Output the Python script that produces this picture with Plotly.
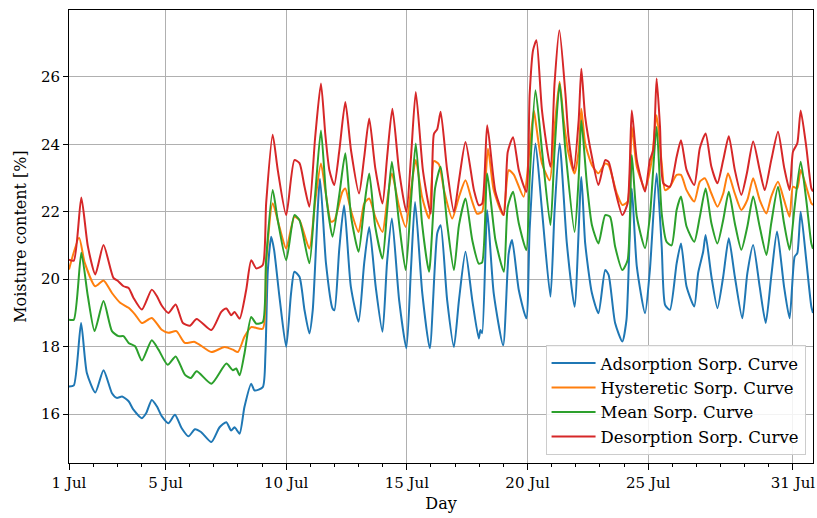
import numpy as np
import pandas as pd
import plotly.graph_objects as go

# Time is given in days since 1 July 00:00; values are moisture content in %.
ads_day = [0.0, 0.20, 0.50, 0.74, 1.09, 1.43, 1.78, 1.98, 2.20, 2.47,
           2.67, 3.02, 3.20, 3.43, 3.64, 3.85, 4.12, 4.39, 4.67, 4.95,
           5.22, 5.47, 5.90, 6.24, 6.52, 6.72, 6.86, 7.07, 7.27, 7.55,
           7.69, 8.03, 8.14, 8.24, 8.38, 8.50, 8.72, 9.00, 9.20, 9.34,
           9.55, 9.76, 9.96, 10.10, 10.40, 10.65, 10.92, 11.00, 11.20, 11.40,
           11.68, 12.00, 12.23, 12.44, 12.71, 12.99, 13.18, 13.38, 13.68, 13.98,
           14.17, 14.34, 14.64, 14.95, 15.26, 15.40, 15.67, 15.95, 16.16, 16.43,
           16.71, 16.98, 17.05, 17.12, 17.33, 17.60, 17.99, 18.22, 18.36, 18.64,
           18.95, 19.09, 19.33, 19.60, 19.95, 20.12, 20.33, 20.63, 20.95, 21.23,
           21.39, 21.67,
           21.94, 22.22, 22.36, 22.63, 22.93, 23.10, 23.32, 23.53, 23.87, 24.07,
           24.35, 24.56, 24.70, 24.90, 25.18, 25.36, 25.59, 25.91, 26.07, 26.28,
           26.38, 26.62, 26.87, 27.11, 27.34, 27.59, 27.90, 28.11, 28.35, 28.62,
           28.87, 29.10, 29.34, 29.63, 29.86, 30.07, 30.18, 30.32, 30.55, 30.76,
           30.83]
ads_val = [16.82, 16.85, 18.70, 17.22, 16.64, 17.30, 16.62, 16.48, 16.52, 16.38,
           16.13, 15.88, 16.03, 16.42, 16.23, 15.93, 15.73, 15.98, 15.58, 15.34,
           15.55, 15.47, 15.17, 15.61, 15.76, 15.51, 15.61, 15.42, 16.21, 16.90,
           16.70, 16.80, 17.79, 20.27, 21.26, 20.86, 19.48, 17.99, 19.57, 20.22,
           20.07, 19.08, 18.39, 19.08, 22.98, 20.46, 19.13, 19.08, 20.90, 22.19,
           19.77, 18.74, 20.46, 21.55, 19.77, 18.44, 20.50, 21.80, 19.38, 17.95,
           20.30, 22.29, 19.58, 17.95, 21.36, 21.60, 19.38, 17.99, 19.38, 20.81,
           19.38, 18.24, 18.49, 18.40, 22.04, 19.58, 18.04, 20.76, 21.16, 19.67,
           18.84, 21.50, 24.02, 22.04, 19.48, 22.00, 24.02, 21.06, 19.18, 23.03,
           21.06, 19.58,
           18.99, 20.27, 20.13, 18.70, 18.15, 18.79, 22.69, 20.37, 18.99, 20.27,
           23.14, 20.97, 19.24, 19.09, 20.47, 21.06, 19.78, 19.19, 20.18, 20.82,
           21.31, 20.08, 19.14, 20.08, 21.21, 20.08, 18.84, 20.18, 21.01, 19.78,
           18.70, 20.08, 21.41, 19.78, 18.84, 20.67, 20.77, 22.00, 20.57, 19.19,
           19.00]

hys_day = [0.0, 0.42, 0.65, 1.09, 1.43, 1.78, 2.12, 2.47, 2.74, 3.02,
           3.43, 3.84, 4.12, 4.45, 4.80, 5.21, 5.90, 6.45, 6.79, 7.00,
           7.27, 7.55, 8.03, 8.17, 8.44, 8.72, 9.00, 9.34, 9.55, 9.96,
           10.20, 10.44, 10.62, 10.86, 11.00, 11.33, 11.45, 11.68, 12.00, 12.23,
           12.44, 12.69, 12.99, 13.18, 13.38, 13.68, 13.95, 14.17, 14.37, 14.63,
           14.92, 15.12, 15.33, 15.54, 15.88, 16.16, 16.43, 16.69, 16.91, 17.12,
           17.36, 17.60, 17.99, 18.22, 18.43, 18.84, 19.09, 19.26, 19.33, 19.60,
           19.92, 20.12, 20.33, 20.50, 20.70, 20.95, 21.12, 21.23, 21.39, 21.67,
           21.94, 22.22, 22.36, 22.70, 22.93, 23.15, 23.32, 23.53, 23.87, 24.15,
           24.35, 24.56, 24.70, 24.90, 25.18, 25.36, 25.59, 25.91, 26.14, 26.35,
           26.62, 26.87, 27.11, 27.31, 27.59, 27.86, 28.11, 28.35, 28.62, 28.90,
           29.10, 29.38, 29.63, 29.86, 30.00, 30.18, 30.32, 30.55, 30.76, 30.83]
hys_val = [20.29, 21.23, 20.49, 19.79, 19.96, 19.59, 19.30, 19.15, 18.95, 18.70,
           18.85, 18.50, 18.41, 18.46, 18.11, 18.14, 17.84, 17.99, 17.91, 17.84,
           18.29, 18.58, 18.53, 20.50, 22.25, 21.55, 20.91, 21.85, 21.75, 20.91,
           22.30, 23.43, 22.64, 21.70, 21.75, 22.59, 22.69, 22.04, 21.40, 22.24,
           22.39, 21.85, 21.40, 22.30, 23.13, 22.14, 21.55, 22.64, 23.53, 22.44,
           21.80, 23.50, 23.40, 22.64, 21.80, 22.44, 22.93, 22.34, 21.94, 22.00,
           23.87, 22.64, 21.90, 23.23, 23.10, 22.44, 23.90, 25.00, 24.71, 23.43,
           22.93, 24.50, 25.85, 24.71, 23.73, 23.13, 23.80, 25.05, 24.02, 23.38,
           23.14, 23.43, 23.38, 22.54, 22.20, 22.30, 24.52, 23.33, 22.69, 23.53,
           24.86, 23.43, 22.64, 22.74, 23.09, 23.09, 22.64, 22.30, 22.89, 22.99,
           22.54, 22.15, 22.54, 23.14, 22.54, 22.05, 22.35, 22.99, 22.35, 21.95,
           22.45, 22.89, 22.35, 21.85, 22.74, 22.69, 23.24, 22.74, 22.25, 22.20]

mean_day = [0.0, 0.20, 0.51, 0.78, 1.06, 1.43, 1.78, 2.05, 2.26, 2.47,
            2.74, 3.02, 3.43, 3.71, 4.09, 4.42, 4.80, 5.05, 5.29, 5.90,
            6.52, 6.79, 6.93, 7.07, 7.27, 7.55, 7.76, 8.03, 8.17, 8.44,
            8.65, 9.00, 9.34, 9.55, 9.96, 10.20, 10.44, 10.66, 10.92, 11.20,
            11.45, 11.69, 12.00, 12.23, 12.44, 12.69, 12.99, 13.18, 13.38, 13.68,
            13.95, 14.17, 14.37, 14.63, 14.92, 15.17, 15.40, 15.67, 15.95, 16.16,
            16.43, 16.71, 16.98, 17.12, 17.33, 17.67, 18.02, 18.18, 18.40, 18.64,
            18.95, 19.09, 19.33, 19.60, 19.95, 20.12, 20.33, 20.57, 20.95, 21.12,
            21.23, 21.46, 21.67,
            21.94, 22.22, 22.42, 22.63, 22.93, 23.15, 23.32, 23.53, 23.87, 24.07,
            24.35, 24.56, 24.76, 24.97, 25.18, 25.36, 25.59, 25.91, 26.14, 26.38,
            26.62, 26.87, 27.11, 27.34, 27.59, 27.86, 28.11, 28.35, 28.62, 28.90,
            29.10, 29.38, 29.63, 29.86, 30.07, 30.32, 30.55, 30.76, 30.83]
mean_val = [18.80, 18.80, 20.78, 19.50, 18.46, 19.35, 18.46, 18.31, 18.31, 18.11,
            18.01, 17.59, 18.19, 17.91, 17.46, 17.71, 17.17, 17.07, 17.27, 16.90,
            17.50, 17.30, 17.35, 17.15, 17.79, 18.88, 18.68, 18.73, 20.60, 22.64,
            21.75, 20.56, 21.90, 21.75, 20.47, 22.50, 24.41, 22.44, 21.26, 22.50,
            23.73, 21.85, 20.81, 22.14, 23.13, 21.55, 20.61, 22.00, 23.48, 21.65,
            20.27, 22.30, 24.02, 21.65, 20.22, 22.70, 23.33, 21.65, 20.27, 21.60,
            22.39, 21.16, 20.46, 20.50, 23.13, 21.16, 20.22, 22.14, 22.59, 21.65,
            20.86, 23.00, 25.60, 23.82, 21.60, 23.80, 25.80, 23.82, 21.40, 23.00,
            24.71, 22.83, 21.60,
            21.06, 21.90, 21.85, 20.97, 20.27, 20.57, 23.68, 21.85, 20.92, 21.85,
            24.52, 21.95, 21.11, 21.00, 22.05, 22.45, 21.56, 21.11, 21.85, 22.69,
            21.66, 21.06, 21.76, 22.59, 21.66, 20.87, 21.56, 22.45, 21.56, 20.72,
            21.66, 22.74, 21.66, 20.87, 22.15, 23.48, 22.35, 21.06, 20.90]

des_day = [0.0, 0.20, 0.51, 0.78, 1.09, 1.43, 1.84, 2.04, 2.26, 2.47,
           2.67, 3.02, 3.43, 3.64, 3.84, 4.12, 4.42, 4.72, 5.01, 5.29,
           5.90, 6.31, 6.52, 6.72, 6.86, 7.07, 7.34, 7.55, 7.76, 8.03,
           8.17, 8.44, 8.65, 9.00, 9.34, 9.55, 9.76, 9.96, 10.20, 10.44,
           10.62, 10.79, 10.99, 11.20, 11.45, 11.69, 12.02, 12.23, 12.44, 12.69,
           12.99, 13.18, 13.40, 13.68, 13.98, 14.17, 14.37, 14.67, 14.99, 15.12,
           15.26, 15.40, 15.67, 15.95, 16.16, 16.43, 16.78, 16.98, 17.12, 17.33,
           17.67, 18.02, 18.18, 18.40, 18.64, 18.95, 19.09, 19.23, 19.37, 19.60,
           19.95, 20.12, 20.32, 20.57, 20.70, 20.91, 21.12, 21.23, 21.39, 21.67,
           21.94, 22.22, 22.36, 22.63, 22.93, 23.15, 23.32, 23.53, 23.87, 24.07,
           24.21, 24.35, 24.49, 24.63, 24.90, 25.18, 25.36, 25.59, 25.91, 26.14,
           26.38, 26.62, 26.87, 27.11, 27.34, 27.59, 27.86, 28.09, 28.35, 28.62,
           28.83, 29.10, 29.38, 29.63, 29.86, 30.00, 30.18, 30.32, 30.55, 30.76,
           30.83]
des_val = [20.58, 20.55, 22.42, 20.98, 20.14, 21.01, 20.04, 19.94, 19.79, 19.74,
           19.45, 19.10, 19.69, 19.50, 19.22, 19.00, 19.25, 18.70, 18.62, 18.82,
           18.49, 19.03, 19.13, 18.93, 19.03, 18.83, 19.67, 20.56, 20.32, 20.42,
           22.25, 24.28, 23.24, 21.90, 23.53, 23.44, 22.74, 22.15, 24.20, 25.80,
           24.30, 23.23, 22.79, 23.80, 25.25, 23.80, 22.54, 23.60, 24.76, 23.30,
           22.24, 23.60, 25.05, 23.20, 21.99, 23.60, 25.55, 23.20, 21.94, 24.30,
           24.45, 24.96, 23.23, 21.99, 22.93, 24.07, 22.64, 22.19, 22.24, 24.56,
           22.59, 21.90, 23.77, 24.21, 23.23, 22.59, 25.50, 26.79, 27.08, 25.00,
           23.33, 25.80, 27.38, 25.50, 24.21, 23.23, 24.71, 26.24, 24.81, 23.62,
           22.79, 23.53, 23.48, 22.64, 21.90, 22.25, 25.00, 23.53, 22.60, 23.53,
           23.83, 25.95, 24.52, 22.84, 22.74, 23.63, 24.12, 23.24, 22.79, 23.88,
           24.32, 23.33, 22.84, 23.53, 24.24, 23.24, 22.50, 23.14, 24.08, 23.24,
           22.64, 23.53, 24.37, 23.33, 22.64, 23.78, 24.03, 25.00, 23.93, 22.70,
           22.60]

series_names = ["Adsorption Sorp. Curve", "Hysteretic Sorp. Curve",
                "Mean Sorp. Curve", "Desorption Sorp. Curve"]
series_colors = ["#1f77b4", "#ff7f0e", "#2ca02c", "#d62728"]

start = pd.Timestamp("2023-07-01")
tick_days = [1, 5, 10, 15, 20, 25, 31]


def to_time(days):
    return start + pd.to_timedelta(np.asarray(days, dtype=float), unit="D")


FONT = "DejaVu Serif"
fig = go.Figure()
for name, days, vals, color in zip(
        series_names,
        [ads_day, hys_day, mean_day, des_day],
        [ads_val, hys_val, mean_val, des_val],
        series_colors):
    fig.add_trace(go.Scatter(
        x=to_time(days), y=vals, mode="lines", name=name,
        legendgroup=name,
        line=dict(color=color, width=2, shape="spline", smoothing=0.6),
    ))

tickvals = [start + pd.Timedelta(days=d - 1) for d in tick_days]
ticktext = [f"{d} Jul" for d in tick_days]

fig.update_layout(
    width=817, height=518,
    margin=dict(l=69, r=2, t=10, b=55),
    paper_bgcolor="white", plot_bgcolor="white",
    font=dict(family=FONT, size=15, color="black"),
    showlegend=True,
    legend=dict(
        x=0.99, y=0.018, xanchor="right", yanchor="bottom",
        bgcolor="rgba(255,255,255,0.85)", bordercolor="#cccccc", borderwidth=1,
        font=dict(family=FONT, size=16.5), tracegroupgap=0, itemwidth=44,
    ),
    xaxis=dict(
        range=[start, start + pd.Timedelta(days=30.83)],
        tickvals=tickvals, ticktext=ticktext, ticklabeloverflow="allow",
        ticks="outside", ticklen=6, tickwidth=1, tickcolor="black",
        minor=dict(dtick=86400000, tick0=start, ticks="outside", ticklen=3,
                   tickcolor="black", showgrid=False),
        showgrid=True, gridcolor="#b0b0b0", gridwidth=1,
        showline=True, linecolor="black", linewidth=1, mirror=True,
        title=dict(text="Day", font=dict(family=FONT, size=16), standoff=6),
        zeroline=False,
    ),
    yaxis=dict(
        range=[14.55, 27.98],
        tickvals=[16, 18, 20, 22, 24, 26],
        ticks="outside", ticklen=5, tickwidth=1, tickcolor="black",
        showgrid=True, gridcolor="#b0b0b0", gridwidth=1,
        showline=True, linecolor="black", linewidth=1, mirror=True,
        title=dict(text="Moisture content [%]", font=dict(family=FONT, size=16),
                   standoff=10),
        zeroline=False,
    ),
)

fig.write_html("out.html")
